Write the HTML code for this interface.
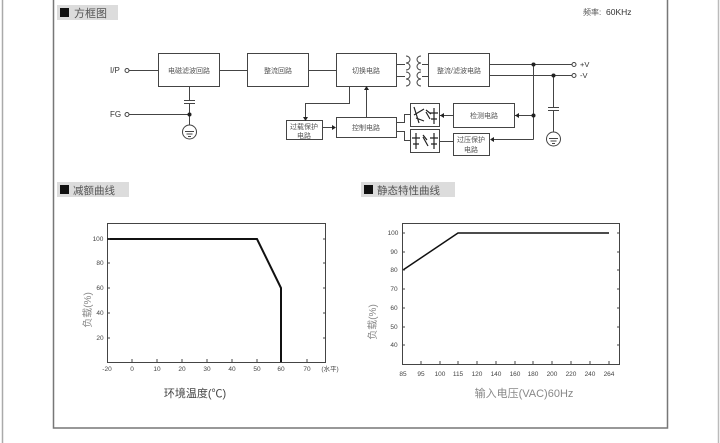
<!DOCTYPE html>
<html><head><meta charset="utf-8"><style>
html,body{margin:0;padding:0;background:#fff;}
svg{display:block;font-family:"Liberation Sans","Noto Sans CJK SC",sans-serif;}
</style></head><body>
<svg width="720" height="443" viewBox="0 0 720 443" xmlns="http://www.w3.org/2000/svg">
<rect x="0" y="0" width="720" height="443" fill="#fff"/>
<line x1="2.5" y1="0" x2="2.5" y2="443" stroke="#aaa" stroke-width="1.5"/>
<line x1="718.5" y1="0" x2="718.5" y2="443" stroke="#bbb" stroke-width="1.5"/>
<polyline points="53.5,0 53.5,428 667.5,428 667.5,0" fill="none" stroke="#777" stroke-width="1.5"/>

<!-- headers -->
<g>
<rect x="57" y="5" width="61" height="15" fill="#dcdcdc"/>
<rect x="60" y="8" width="9" height="9" fill="#111"/>
<text x="74" y="17" font-size="11" fill="#555">方框图</text>
<rect x="57" y="182" width="72" height="15" fill="#dcdcdc"/>
<rect x="60" y="185" width="9" height="9" fill="#111"/>
<text x="73" y="194" font-size="10.5" fill="#555">减额曲线</text>
<rect x="361" y="182" width="94" height="15" fill="#dcdcdc"/>
<rect x="364" y="185" width="9" height="9" fill="#111"/>
<text x="377" y="194" font-size="10.5" fill="#555">静态特性曲线</text>
<text x="583" y="15" font-size="8" fill="#555">频率:</text>
<text x="606" y="15" font-size="8.5" fill="#333">60KHz</text>
</g>

<g stroke="#444" stroke-width="1" fill="none">
<!-- boxes -->
<rect x="158.5" y="53.5" width="61" height="33" fill="#fff"/>
<rect x="247.5" y="53.5" width="61" height="33" fill="#fff"/>
<rect x="336.5" y="53.5" width="60" height="33" fill="#fff"/>
<rect x="428.5" y="53.5" width="61" height="33" fill="#fff"/>
<rect x="286.5" y="120.5" width="36" height="19" fill="#fff"/>
<rect x="336.5" y="117.5" width="60" height="20" fill="#fff"/>
<rect x="410.5" y="103.5" width="29" height="23" fill="#fff"/>
<rect x="410.5" y="129.5" width="29" height="23" fill="#fff"/>
<rect x="453.5" y="103.5" width="61" height="24" fill="#fff"/>
<rect x="453.5" y="133.5" width="36" height="22" fill="#fff"/>
<!-- main lines -->
<line x1="129" y1="70.5" x2="158" y2="70.5"/>
<line x1="220" y1="70.5" x2="247" y2="70.5"/>
<line x1="309" y1="70.5" x2="336" y2="70.5"/>
<line x1="397" y1="64.5" x2="405" y2="64.5"/>
<line x1="397" y1="76.5" x2="405" y2="76.5"/>
<line x1="422" y1="64.5" x2="428" y2="64.5"/>
<line x1="422" y1="76.5" x2="428" y2="76.5"/>
<line x1="490" y1="64.5" x2="572" y2="64.5"/>
<line x1="490" y1="75.5" x2="572" y2="75.5"/>
<!-- transformer coils -->
<path d="M406,56 a4,3.5 0 0 1 0,7 a4,3.5 0 0 1 0,7 M406,72 a4,3.5 0 0 1 0,7 a4,3.5 0 0 1 0,7"/>
<path d="M421,56 a4,3.5 0 0 0 0,7 a4,3.5 0 0 0 0,7 M421,72 a4,3.5 0 0 0 0,7 a4,3.5 0 0 0 0,7"/>
<line x1="413" y1="56" x2="413" y2="86" stroke="none"/>
<!-- FG -->
<line x1="129" y1="114.5" x2="189" y2="114.5"/>
<line x1="189.5" y1="87" x2="189.5" y2="100"/>
<line x1="184" y1="100.5" x2="195" y2="100.5"/>
<line x1="184" y1="103.5" x2="195" y2="103.5"/>
<line x1="189.5" y1="104" x2="189.5" y2="125"/>
<circle cx="189.5" cy="132" r="7"/>
<line x1="185" y1="131.5" x2="194" y2="131.5"/>
<line x1="186.5" y1="134" x2="192.5" y2="134"/>
<line x1="188" y1="136.5" x2="191" y2="136.5"/>
<!-- control connections -->
<polyline points="349.5,87 349.5,103.5 305.5,103.5 305.5,118"/>
<line x1="366.5" y1="117" x2="366.5" y2="89"/>
<line x1="323" y1="127.5" x2="334" y2="127.5"/>
<polyline points="397,122.5 404.5,122.5 404.5,114.5 410,114.5"/>
<polyline points="397,131.5 404.5,131.5 404.5,140.5 410,140.5"/>
<line x1="440" y1="115.5" x2="453" y2="115.5"/>
<line x1="440" y1="141.5" x2="453" y2="141.5"/>
<!-- feedback -->
<line x1="533.5" y1="64" x2="533.5" y2="139.5"/>
<line x1="515" y1="115.5" x2="533" y2="115.5"/>
<polyline points="533.5,139.5 491,139.5"/>
<!-- -V cap -->
<line x1="553.5" y1="75" x2="553.5" y2="107"/>
<line x1="548" y1="107.5" x2="559" y2="107.5"/>
<line x1="548" y1="110.5" x2="559" y2="110.5"/>
<line x1="553.5" y1="111" x2="553.5" y2="132"/>
<circle cx="553.5" cy="139" r="7"/>
<line x1="549" y1="138.5" x2="558" y2="138.5"/>
<line x1="550.5" y1="141" x2="556.5" y2="141"/>
<line x1="552" y1="143.5" x2="555" y2="143.5"/>
<!-- terminals -->
<circle cx="127" cy="70.5" r="2"/>
<circle cx="127" cy="114.5" r="2"/>
<circle cx="574" cy="64.5" r="2"/>
<circle cx="574" cy="75.5" r="2"/>
<!-- opto symbols -->
<g stroke="#222" stroke-width="1.2">
<path d="M414,107 L419,123 M414,115 L424,109 M416,118 L424,121"/>
<path d="M426,112 L430,119 M426,110 L431,114"/>
<path d="M434,108 L434,124 M430,113 L438,113 M431,119 L437,119"/>
<path d="M416,133 L416,149 M412,138 L420,138 M413,144 L419,144"/>
<path d="M423,137 L428,146 M423,135 L427,140"/>
<path d="M434,133 L434,149 M430,138 L438,138 M431,144 L437,144"/>
</g>
</g>
<g fill="#222">
<circle cx="189.5" cy="114.5" r="2"/>
<circle cx="533.5" cy="64.5" r="2"/>
<circle cx="553.5" cy="75.5" r="2"/>
<circle cx="533.5" cy="115.5" r="2"/>
<polygon points="303,117 308,117 305.5,121"/>
<polygon points="364,90 369,90 366.5,86"/>
<polygon points="332,125 332,130 336,127.5"/>
<polygon points="444,113 444,118 440,115.5"/>
<polygon points="519,113 519,118 515,115.5"/>
<polygon points="494,137 494,142 490,139.5"/>
</g>
<g font-size="7" fill="#555">
<text x="110" y="73" font-size="8" fill="#333">I/P</text>
<text x="110" y="117" font-size="8" fill="#333">FG</text>
<text x="580" y="67" font-size="7.5" fill="#333">+V</text>
<text x="580" y="78" font-size="7.5" fill="#333">-V</text>
<text x="189" y="73" text-anchor="middle">电磁滤波回路</text>
<text x="278" y="73" text-anchor="middle">整流回路</text>
<text x="366" y="73" text-anchor="middle">切换电路</text>
<text x="459" y="73" text-anchor="middle">整流/滤波电路</text>
<text x="366" y="130" text-anchor="middle">控制电路</text>
<text x="304" y="129" text-anchor="middle">过载保护</text>
<text x="304" y="138" text-anchor="middle">电路</text>
<text x="484" y="118" text-anchor="middle">检测电路</text>
<text x="471" y="142" text-anchor="middle">过压保护</text>
<text x="471" y="152" text-anchor="middle">电路</text>
</g>

<!-- left chart -->
<g stroke="#444" fill="none">
<rect x="107.5" y="223.5" width="218" height="139" stroke-width="1"/>
<polyline points="107,239 257,239 281,288 281,362" stroke="#111" stroke-width="2"/>
<g stroke-width="1">
<path d="M107,239h3M107,263h3M107,288h3M107,313h3M107,338h3"/>
<path d="M326,239h-3M326,263h-3M326,288h-3M326,313h-3M326,338h-3"/>
<path d="M132,362v-3M157,362v-3M182,362v-3M207,362v-3M232,362v-3M257,362v-3M307,362v-3"/>
</g>
</g>
<g font-size="6.5" fill="#444" text-anchor="middle">
<text x="98" y="241">100</text><text x="100" y="265">80</text><text x="100" y="290">60</text><text x="100" y="315">40</text><text x="100" y="340">20</text>
<text x="107" y="371">-20</text><text x="132" y="371">0</text><text x="157" y="371">10</text><text x="182" y="371">20</text><text x="207" y="371">30</text><text x="232" y="371">40</text><text x="257" y="371">50</text><text x="281" y="371">60</text><text x="307" y="371">70</text><text x="330" y="371">(水平)</text>
</g>
<text x="195" y="397" font-size="11" fill="#444" text-anchor="middle">环境温度(℃)</text>
<text transform="translate(91,310) rotate(-90)" font-size="10" fill="#888" text-anchor="middle">负载(%)</text>

<!-- right chart -->
<g stroke="#444" fill="none">
<rect x="402.5" y="223.5" width="217" height="141" stroke-width="1"/>
<polyline points="403,270 458,233 609,233" stroke="#111" stroke-width="1.5"/>
<g stroke-width="1">
<path d="M402,233h3M402,252h3M402,270h3M402,289h3M402,308h3M402,327h3M402,345h3"/>
<path d="M620,233h-3M620,252h-3M620,270h-3M620,289h-3M620,308h-3M620,327h-3M620,345h-3"/>
<path d="M421,364v-3M440,364v-3M458,364v-3M477,364v-3M496,364v-3M515,364v-3M533,364v-3M552,364v-3M571,364v-3M590,364v-3M609,364v-3"/>
</g>
</g>
<g font-size="6.5" fill="#444" text-anchor="middle">
<text x="393" y="235">100</text><text x="394" y="254">90</text><text x="394" y="272">80</text><text x="394" y="291">70</text><text x="394" y="310">60</text><text x="394" y="329">50</text><text x="394" y="347">40</text>
<text x="403" y="376">85</text><text x="421" y="376">95</text><text x="440" y="376">100</text><text x="458" y="376">115</text><text x="477" y="376">120</text><text x="496" y="376">140</text><text x="515" y="376">160</text><text x="533" y="376">180</text><text x="552" y="376">200</text><text x="571" y="376">220</text><text x="590" y="376">240</text><text x="609" y="376">264</text>
</g>
<text x="524" y="397" font-size="11" fill="#888" text-anchor="middle">输入电压(VAC)60Hz</text>
<text transform="translate(376,322) rotate(-90)" font-size="10" fill="#888" text-anchor="middle">负载(%)</text>
</svg>
</body></html>
